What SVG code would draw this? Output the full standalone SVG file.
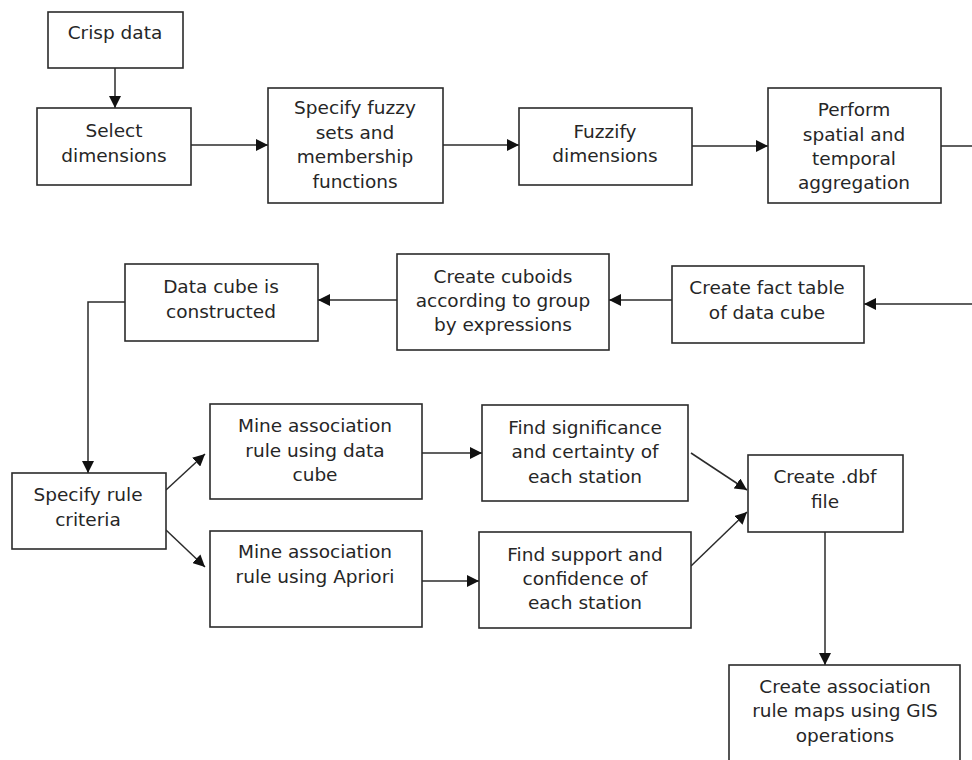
<svg xmlns="http://www.w3.org/2000/svg" width="972" height="760" viewBox="0 0 972 760">
  <style>
    .box { fill: #ffffff; stroke: #2b2b2b; stroke-width: 1.6; }
    .lbl { font-family: "DejaVu Sans", "Liberation Sans", sans-serif; font-size: 18.5px; fill: #262626; text-anchor: middle; }
    .wire { fill: none; stroke: #2b2b2b; stroke-width: 1.5; }
  </style>
  <defs>
    <marker id="arrow" viewBox="0 0 10 10" refX="10" refY="5" markerWidth="12" markerHeight="12" markerUnits="userSpaceOnUse" orient="auto">
      <path d="M0,0 L10,5 L0,10 Z" fill="#111111"/>
    </marker>
  </defs>
  <rect width="972" height="760" fill="#ffffff"/>

  <g id="connectors">
    <path class="wire" d="M115,68 V108" marker-end="url(#arrow)"/>
    <path class="wire" d="M191,145 H268" marker-end="url(#arrow)"/>
    <path class="wire" d="M443,145 H519" marker-end="url(#arrow)"/>
    <path class="wire" d="M692,146 H768" marker-end="url(#arrow)"/>
    <path class="wire" d="M941,146 H973 V304 H864" marker-end="url(#arrow)"/>
    <path class="wire" d="M672,300 H609" marker-end="url(#arrow)"/>
    <path class="wire" d="M397,300 H318" marker-end="url(#arrow)"/>
    <path class="wire" d="M125,302 H88 V473" marker-end="url(#arrow)"/>
    <path class="wire" d="M166,490 L205,454" marker-end="url(#arrow)"/>
    <path class="wire" d="M166,530 L205,567" marker-end="url(#arrow)"/>
    <path class="wire" d="M422,453 H482" marker-end="url(#arrow)"/>
    <path class="wire" d="M422,581 H479" marker-end="url(#arrow)"/>
    <path class="wire" d="M691,453 L747,490" marker-end="url(#arrow)"/>
    <path class="wire" d="M691,566 L747,512" marker-end="url(#arrow)"/>
    <path class="wire" d="M825,532 V665" marker-end="url(#arrow)"/>
  </g>

  <g id="crisp-data">
    <rect class="box" x="48" y="12" width="135" height="56"/>
    <text class="lbl" x="115" y="39">Crisp data</text>
  </g>
  <g id="select-dimensions">
    <rect class="box" x="37" y="108" width="154" height="77"/>
    <text class="lbl" x="114" y="137">Select</text>
    <text class="lbl" x="114" y="162">dimensions</text>
  </g>
  <g id="specify-fuzzy-sets">
    <rect class="box" x="268" y="88" width="175" height="115"/>
    <text class="lbl" x="355" y="114">Specify fuzzy</text>
    <text class="lbl" x="355" y="139">sets and</text>
    <text class="lbl" x="355" y="163">membership</text>
    <text class="lbl" x="355" y="188">functions</text>
  </g>
  <g id="fuzzify-dimensions">
    <rect class="box" x="519" y="108" width="173" height="77"/>
    <text class="lbl" x="605" y="138">Fuzzify</text>
    <text class="lbl" x="605" y="162">dimensions</text>
  </g>
  <g id="aggregation">
    <rect class="box" x="768" y="88" width="173" height="115"/>
    <text class="lbl" x="854" y="116">Perform</text>
    <text class="lbl" x="854" y="141">spatial and</text>
    <text class="lbl" x="854" y="165">temporal</text>
    <text class="lbl" x="854" y="189">aggregation</text>
  </g>
  <g id="fact-table">
    <rect class="box" x="672" y="266" width="192" height="77"/>
    <text class="lbl" x="767" y="294">Create fact table</text>
    <text class="lbl" x="767" y="319">of data cube</text>
  </g>
  <g id="create-cuboids">
    <rect class="box" x="397" y="254" width="212" height="96"/>
    <text class="lbl" x="503" y="283">Create cuboids</text>
    <text class="lbl" x="503" y="307">according to group</text>
    <text class="lbl" x="503" y="331">by expressions</text>
  </g>
  <g id="data-cube">
    <rect class="box" x="125" y="264" width="193" height="77"/>
    <text class="lbl" x="221" y="293">Data cube is</text>
    <text class="lbl" x="221" y="318">constructed</text>
  </g>
  <g id="rule-criteria">
    <rect class="box" x="12" y="473" width="154" height="76"/>
    <text class="lbl" x="88" y="501">Specify rule</text>
    <text class="lbl" x="88" y="526">criteria</text>
  </g>
  <g id="mine-data-cube">
    <rect class="box" x="210" y="404" width="212" height="95"/>
    <text class="lbl" x="315" y="432">Mine association</text>
    <text class="lbl" x="315" y="457">rule using data</text>
    <text class="lbl" x="315" y="481">cube</text>
  </g>
  <g id="mine-apriori">
    <rect class="box" x="210" y="531" width="212" height="96"/>
    <text class="lbl" x="315" y="558">Mine association</text>
    <text class="lbl" x="315" y="583">rule using Apriori</text>
  </g>
  <g id="significance">
    <rect class="box" x="482" y="405" width="206" height="96"/>
    <text class="lbl" x="585" y="434">Find significance</text>
    <text class="lbl" x="585" y="458">and certainty of</text>
    <text class="lbl" x="585" y="483">each station</text>
  </g>
  <g id="support">
    <rect class="box" x="479" y="532" width="212" height="96"/>
    <text class="lbl" x="585" y="561">Find support and</text>
    <text class="lbl" x="585" y="585">confidence of</text>
    <text class="lbl" x="585" y="609">each station</text>
  </g>
  <g id="dbf-file">
    <rect class="box" x="748" y="455" width="155" height="77"/>
    <text class="lbl" x="825" y="483">Create .dbf</text>
    <text class="lbl" x="825" y="508">file</text>
  </g>
  <g id="gis-maps">
    <rect class="box" x="729" y="665" width="231" height="110"/>
    <text class="lbl" x="845" y="693">Create association</text>
    <text class="lbl" x="845" y="717">rule maps using GIS</text>
    <text class="lbl" x="845" y="742">operations</text>
  </g>
</svg>
